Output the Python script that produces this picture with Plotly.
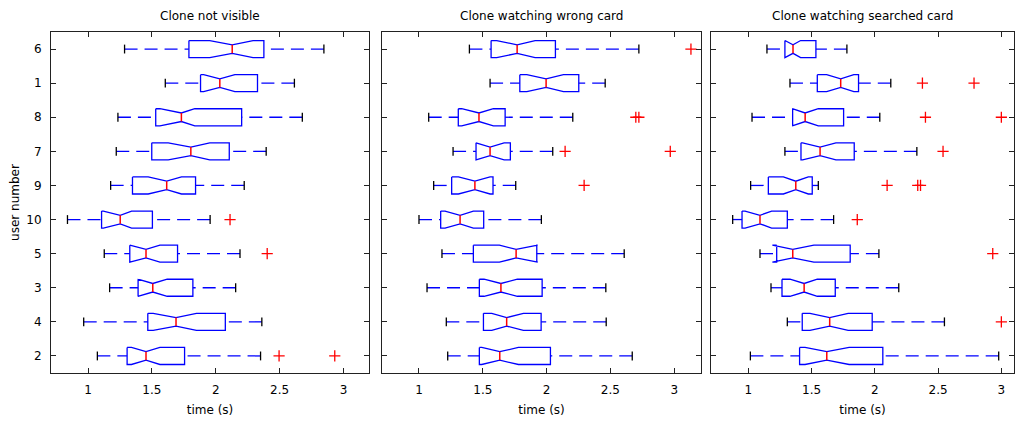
import plotly.graph_objects as go

USERS = ["6", "1", "8", "7", "9", "10", "5", "3", "4", "2"]
TITLES = ["Clone not visible", "Clone watching wrong card", "Clone watching searched card"]
XTICKS = [1, 1.5, 2, 2.5, 3]
XTICKTEXT = ["1", "1.5", "2", "2.5", "3"]

# Panel 1: Clone not visible
P1_LOW = [1.286, 1.605, 1.234, 1.221, 1.177, 0.839, 1.127, 1.169, 0.966, 1.073]
P1_Q1 = [1.790, 1.881, 1.530, 1.499, 1.348, 1.106, 1.327, 1.392, 1.468, 1.306]
P1_MED = [2.129, 2.032, 1.731, 1.805, 1.616, 1.252, 1.454, 1.507, 1.689, 1.454]
P1_Q3 = [2.377, 2.327, 2.203, 2.106, 1.842, 1.504, 1.701, 1.821, 2.075, 1.756]
P1_HIGH = [2.847, 2.616, 2.678, 2.395, 2.223, 1.956, 2.190, 2.156, 2.361, 2.351]
P1_NLO = [1.953, 1.905, 1.563, 1.628, 1.471, 1.120, 1.328, 1.390, 1.510, 1.340]
P1_NHI = [2.292, 2.150, 1.836, 1.953, 1.732, 1.341, 1.563, 1.620, 1.849, 1.563]
P1_OUT = [[], [], [], [], [], [2.112], [2.403], [], [], [2.496, 2.932]]

# Panel 2: Clone watching wrong card
P2_LOW = [1.395, 1.557, 1.076, 1.267, 1.115, 1.000, 1.180, 1.063, 1.214, 1.225]
P2_Q1 = [1.565, 1.790, 1.308, 1.447, 1.256, 1.170, 1.426, 1.473, 1.505, 1.473]
P2_MED = [1.769, 1.996, 1.470, 1.557, 1.438, 1.322, 1.761, 1.642, 1.687, 1.633]
P2_Q3 = [2.069, 2.252, 1.675, 1.716, 1.580, 1.507, 1.923, 1.965, 1.957, 2.030]
P2_HIGH = [2.723, 2.459, 2.205, 2.048, 1.758, 1.959, 2.608, 2.464, 2.467, 2.671]
P2_NLO = [1.609, 1.845, 1.335, 1.447, 1.309, 1.204, 1.630, 1.510, 1.570, 1.492]
P2_NHI = [1.910, 2.132, 1.583, 1.667, 1.557, 1.426, 1.930, 1.771, 1.818, 1.779]
P2_OUT = [[3.131], [], [2.699, 2.723], [2.145, 2.969], [2.294], [], [], [], [], []]

# Panel 3: Clone watching searched card
P3_LOW = [1.147, 1.329, 1.029, 1.289, 1.018, 0.876, 1.092, 1.179, 1.308, 1.016]
P3_Q1 = [1.289, 1.545, 1.350, 1.416, 1.158, 0.950, 1.224, 1.266, 1.426, 1.405]
P3_MED = [1.353, 1.730, 1.449, 1.567, 1.375, 1.092, 1.351, 1.441, 1.643, 1.620]
P3_Q3 = [1.534, 1.871, 1.753, 1.837, 1.505, 1.308, 1.805, 1.687, 1.979, 2.063]
P3_HIGH = [1.779, 2.126, 2.039, 2.332, 1.553, 1.674, 2.032, 2.189, 2.550, 2.979]
P3_NLO = [1.290, 1.619, 1.347, 1.429, 1.277, 0.974, 1.190, 1.329, 1.487, 1.448]
P3_NHI = [1.413, 1.834, 1.553, 1.692, 1.474, 1.184, 1.518, 1.545, 1.789, 1.797]
P3_OUT = [[], [2.376, 2.784], [2.400, 3.0], [2.539], [2.097, 2.339, 2.361], [1.861], [2.932], [], [3.0], []]

PANELS = [
    (P1_LOW, P1_Q1, P1_MED, P1_Q3, P1_HIGH, P1_NLO, P1_NHI, P1_OUT),
    (P2_LOW, P2_Q1, P2_MED, P2_Q3, P2_HIGH, P2_NLO, P2_NHI, P2_OUT),
    (P3_LOW, P3_Q1, P3_MED, P3_Q3, P3_HIGH, P3_NLO, P3_NHI, P3_OUT),
]
XRANGES = [[0.71, 3.2], [0.71, 3.21], [0.705, 3.1]]
DOMAINS = [[0.0, 0.3302], [0.3437, 0.6750], [0.6854, 1.0]]

H = 0.25      # box half height
HN = 0.125    # half height at notch
HC = 0.13     # cap half height
BLUE = "#0000FF"
RED = "#FF0000"
FONT = "DejaVu Sans"

fig = go.Figure()

for p, (low, q1, med, q3, high, nlo, nhi, outs) in enumerate(PANELS):
    xa = "x" if p == 0 else f"x{p+1}"
    ya = "y" if p == 0 else f"y{p+1}"
    bx, by, wx, wy, cx, cy, mx, my, ox, oy = [], [], [], [], [], [], [], [], [], []
    for i in range(len(USERS)):
        c = i + 1
        bx += [q1[i], nlo[i], med[i], nhi[i], q3[i], q3[i], nhi[i], med[i], nlo[i], q1[i], q1[i], None]
        by += [c - H, c - H, c - HN, c - H, c - H, c + H, c + H, c + HN, c + H, c + H, c - H, None]
        wx += [high[i], q3[i], None, low[i], q1[i], None]
        wy += [c, c, None, c, c, None]
        cx += [low[i], low[i], None, high[i], high[i], None]
        cy += [c - HC, c + HC, None, c - HC, c + HC, None]
        mx += [med[i], med[i], None]
        my += [c - HN, c + HN, None]
        for o in outs[i]:
            ox.append(o)
            oy.append(c)
    fig.add_trace(go.Scatter(x=wx, y=wy, mode="lines", xaxis=xa, yaxis=ya,
                             line=dict(color=BLUE, width=1.3, dash="13px,7px"),
                             hoverinfo="skip", showlegend=False))
    fig.add_trace(go.Scatter(x=bx, y=by, mode="lines", xaxis=xa, yaxis=ya,
                             line=dict(color=BLUE, width=1.3),
                             hoverinfo="skip", showlegend=False))
    fig.add_trace(go.Scatter(x=cx, y=cy, mode="lines", xaxis=xa, yaxis=ya,
                             line=dict(color="#000000", width=1.3),
                             hoverinfo="skip", showlegend=False))
    fig.add_trace(go.Scatter(x=mx, y=my, mode="lines", xaxis=xa, yaxis=ya,
                             line=dict(color=RED, width=1.5),
                             hoverinfo="skip", showlegend=False))
    fig.add_trace(go.Scatter(x=ox, y=oy, mode="markers", xaxis=xa, yaxis=ya,
                             marker=dict(symbol="cross-thin", size=8,
                                         line=dict(color=RED, width=1.3)),
                             hoverinfo="skip", showlegend=False))

axis_common = dict(showline=True, linecolor="#222222", linewidth=1, mirror="allticks",
                   ticks="inside", ticklen=5, tickcolor="#222222", showgrid=False,
                   zeroline=False, tickfont=dict(family=FONT, size=12, color="#000000"))

layout = dict(
    width=1019, height=423,
    margin=dict(l=51, r=5, t=32, b=50),
    paper_bgcolor="white", plot_bgcolor="white",
    font=dict(family=FONT, size=12, color="#000000"),
    annotations=[],
)
for p in range(3):
    sx = "" if p == 0 else str(p + 1)
    layout[f"xaxis{sx}"] = dict(axis_common, domain=DOMAINS[p], range=XRANGES[p],
                                tickvals=XTICKS, ticktext=XTICKTEXT, anchor=f"y{sx}",
                                ticklabelstandoff=6,
                                title=dict(text="time (s)", standoff=9,
                                           font=dict(family=FONT, size=12)))
    ydict = dict(axis_common, domain=[0, 1], range=[10.5, 0.5], anchor=f"x{sx}",
                 tickvals=list(range(1, len(USERS) + 1)), ticktext=USERS)
    if p == 0:
        ydict["ticklabelstandoff"] = 6
        ydict["title"] = dict(text="user number", standoff=4, font=dict(family=FONT, size=12))
    else:
        ydict["showticklabels"] = False
    layout[f"yaxis{sx}"] = ydict
    layout["annotations"].append(dict(
        text=TITLES[p], x=(DOMAINS[p][0] + DOMAINS[p][1]) / 2, y=1, xref="paper", yref="paper",
        xanchor="center", yanchor="bottom", yshift=7, showarrow=False,
        font=dict(family=FONT, size=12, color="#000000")))

fig.update_layout(**layout)
fig.write_html("out.html")
